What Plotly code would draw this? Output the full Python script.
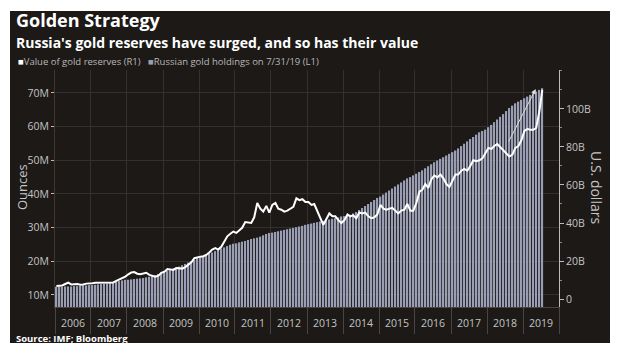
import plotly.graph_objects as go
import pandas as pd

# Russian gold holdings (million troy ounces), monthly Jan 2006 - Jul 2019 (left axis)
holdings = [
    12.4, 12.4, 12.4, 12.5, 12.5, 12.5, 12.6, 12.6, 12.7, 12.8, 12.8, 12.9,   # 2006
    12.9, 13.0, 13.1, 13.2, 13.3, 13.4, 13.6, 13.7, 13.9, 14.1, 14.3, 14.5,   # 2007
    14.5, 14.6, 14.7, 14.8, 14.9, 15.0, 15.2, 15.4, 15.6, 15.8, 16.2, 16.7,   # 2008
    16.8, 17.2, 17.5, 17.8, 18.0, 18.4, 18.8, 19.2, 19.6, 20.0, 20.4, 20.9,   # 2009
    21.1, 21.5, 21.9, 22.3, 22.6, 23.0, 23.4, 23.8, 24.1, 24.5, 24.9, 25.2,   # 2010
    25.3, 25.6, 25.8, 26.0, 26.3, 26.6, 26.8, 27.0, 27.3, 27.7, 28.1, 28.4,   # 2011
    28.5, 28.7, 28.9, 29.1, 29.3, 29.5, 29.7, 29.9, 30.1, 30.3, 30.5, 30.8,   # 2012
    31.0, 31.2, 31.4, 31.6, 31.8, 32.0, 32.2, 32.4, 32.6, 32.8, 33.0, 33.3,   # 2013
    33.4, 33.6, 33.8, 34.2, 34.6, 35.2, 35.8, 36.4, 37.0, 37.6, 38.2, 38.8,   # 2014
    39.2, 39.8, 40.4, 41.0, 41.6, 42.2, 42.8, 43.4, 44.0, 44.6, 45.0, 45.5,   # 2015
    46.0, 46.5, 47.0, 47.6, 48.2, 48.8, 49.4, 49.9, 50.4, 50.9, 51.4, 51.9,   # 2016
    52.4, 52.9, 53.5, 54.2, 54.9, 55.6, 56.3, 56.9, 57.6, 58.3, 58.7, 59.1,   # 2017
    59.8, 60.5, 61.3, 62.1, 62.9, 63.7, 64.6, 65.5, 66.2, 66.9, 67.4, 67.9,   # 2018
    68.4, 68.9, 69.4, 69.9, 70.4, 70.9, 71.4,                                 # 2019
]

# Value of gold reserves (billion US$), monthly (right axis)
reserve_value = [
    6.9, 7.0, 7.1, 7.9, 8.6, 7.7, 7.9, 7.9, 7.5, 7.6, 8.1, 8.1,               # 2006
    8.3, 8.5, 8.5, 8.6, 8.4, 8.4, 8.6, 8.7, 9.5, 10.3, 10.8, 11.8,            # 2007
    13.0, 14.0, 14.2, 13.3, 13.0, 13.3, 13.8, 12.7, 12.3, 11.8, 12.3, 13.8,   # 2008
    14.4, 15.8, 15.6, 15.3, 16.3, 16.2, 16.0, 16.8, 18.0, 19.3, 21.5, 22.0,   # 2009
    22.3, 22.5, 23.2, 24.5, 26.0, 26.8, 26.0, 27.5, 30.5, 33.0, 34.3, 35.5,   # 2010
    34.8, 36.5, 37.5, 40.5, 40.3, 40.0, 43.0, 50.5, 47.5, 46.0, 49.0, 45.5,   # 2011
    49.5, 50.5, 47.5, 47.0, 46.0, 46.5, 47.5, 48.5, 53.0, 52.0, 52.5, 51.0,   # 2012
    51.0, 49.5, 50.0, 46.0, 43.0, 39.0, 42.0, 45.0, 43.5, 43.5, 41.5, 40.0,   # 2013
    41.5, 44.5, 43.5, 44.0, 42.5, 45.5, 45.0, 45.5, 43.5, 42.5, 43.0, 44.5,   # 2014
    49.5, 47.5, 47.0, 47.5, 48.0, 46.5, 45.0, 46.5, 47.0, 50.0, 46.5, 46.5,   # 2015
    50.5, 56.5, 57.5, 60.5, 58.5, 63.0, 65.0, 64.0, 65.5, 63.5, 60.5, 59.0,   # 2016
    62.5, 65.5, 65.5, 67.5, 68.5, 67.5, 70.0, 73.0, 72.5, 73.0, 74.0, 76.5,   # 2017
    79.5, 79.0, 80.5, 81.5, 80.0, 78.0, 76.5, 75.0, 76.0, 79.5, 80.5, 83.5,   # 2018
    88.5, 89.5, 89.0, 89.0, 90.0, 98.5, 110.0,                                # 2019
]

months = pd.date_range("2006-01-01", periods=len(holdings), freq="MS") + pd.Timedelta(days=14)

left_ticks = [10, 20, 30, 40, 50, 60, 70]
left_labels = ["10M", "20M", "30M", "40M", "50M", "60M", "70M"]
right_ticks = [0, 20, 40, 60, 80, 100]
right_labels = ["0", "20B", "40B", "60B", "80B", "100B"]

BG = "#1c1917"
BAR = "#9a9eb4"
GRID = "#35302d"
TXT = "#c4c4c4"
FONT = "Open Sans"

L, R, T, B = 55, 61, 70, 48
W, H = 620, 355
pw, ph = W - L - R, H - T - B

def px(x):
    return (x - L) / pw

def py(y):
    return (H - B - y) / ph

fig = go.Figure()
fig.add_trace(go.Bar(x=months, y=holdings, marker=dict(color=BAR, line=dict(width=0)),
                     name="Russian gold holdings on 7/31/19 (L1)", yaxis="y"))
fig.add_trace(go.Scatter(x=months, y=reserve_value, mode="lines",
                         line=dict(color="white", width=2),
                         name="Value of gold reserves (R1)", yaxis="y2"))

fig.update_layout(
    width=W, height=H,
    margin=dict(l=L, r=R, t=T, b=B),
    paper_bgcolor="white",
    plot_bgcolor="rgba(0,0,0,0)",
    showlegend=False,
    bargap=0.38,
    font=dict(family=FONT, color=TXT, size=11),
    xaxis=dict(
        type="date", range=["2006-01-01", "2020-01-01"],
        tick0="2006-01-01", dtick="M12", tickformat="%Y", ticklabelmode="period",
        ticks="outside", ticklen=26, tickcolor="#4a4542", tickwidth=1,
        ticklabelstandoff=-20,
        showgrid=True, gridcolor=GRID, gridwidth=1,
        showline=True, linecolor="#4a4542", zeroline=False,
        tickfont=dict(size=10.5, color=TXT),
    ),
    yaxis=dict(
        range=[6.4, 76.8], tickvals=left_ticks, ticktext=left_labels,
        ticks="outside", ticklen=3, tickcolor="#bbbbbb",
        showgrid=True, gridcolor=GRID, zeroline=False,
        showline=True, linecolor="#3d3835",
        tickfont=dict(size=10.5, color=TXT),
    ),
    yaxis2=dict(
        overlaying="y", side="right", anchor="x",
        range=[-4.2, 120.5], tickvals=right_ticks, ticktext=right_labels,
        ticks="outside", ticklen=4, tickcolor="#bbbbbb",
        minor=dict(dtick=10, ticks="outside", ticklen=2, tickcolor="#888888"),
        showgrid=False, zeroline=False,
        showline=True, linecolor="#bbbbbb", linewidth=1,
        tickfont=dict(size=10.5, color=TXT),
    ),
)

fig.add_shape(type="rect", xref="paper", yref="paper",
              x0=px(10), x1=px(610), y0=py(343), y1=py(11),
              fillcolor=BG, line=dict(width=0), layer="below")

fig.add_annotation(xref="paper", yref="paper", x=px(14), y=py(20), xanchor="left", yanchor="middle",
                   text="<b>Golden Strategy</b>", showarrow=False,
                   font=dict(family=FONT, size=18, color="white"))
fig.add_annotation(xref="paper", yref="paper", x=px(14), y=py(42), xanchor="left", yanchor="middle",
                   text="<b>Russia's gold reserves have surged, and so has their value</b>", showarrow=False,
                   font=dict(family=FONT, size=14, color="white"))
fig.add_annotation(xref="paper", yref="paper", x=px(16), y=py(61), xanchor="left", yanchor="middle",
                   text=("<span style='color:white'>■</span>Value of gold reserves (R1)   "
                         f"<span style='color:{BAR}'>■</span>Russian gold holdings on 7/31/19 (L1)"),
                   showarrow=False, font=dict(family=FONT, size=9.5, color="#b8b8b8"))
fig.add_annotation(xref="paper", yref="paper", x=px(14), y=py(338), xanchor="left", yanchor="middle",
                   text="<b>Source: IMF; Bloomberg</b>", showarrow=False,
                   font=dict(family=FONT, size=9.5, color="white"))
fig.add_annotation(xref="paper", yref="paper", x=px(22), y=py(187), xanchor="center", yanchor="middle",
                   text="Ounces", textangle=-90, showarrow=False,
                   font=dict(family=FONT, size=13, color=TXT))
fig.add_annotation(xref="paper", yref="paper", x=px(597), y=py(187), xanchor="center", yanchor="middle",
                   text="U.S. dollars", textangle=90, showarrow=False,
                   font=dict(family=FONT, size=14, color=TXT))

# arrow annotation (2018 -> 2019)
fig.add_annotation(x="2019-05-10", y=110.5, xref="x", yref="y2",
                   ax="2018-07-31", ay=82, axref="x", ayref="y2",
                   text="", showarrow=True, arrowhead=2, arrowsize=1, arrowwidth=1,
                   arrowcolor="#dddddd")

fig.write_html("out.html", config={"displayModeBar": False},
               post_script="document.body.style.margin='0';document.body.style.background='white';")
